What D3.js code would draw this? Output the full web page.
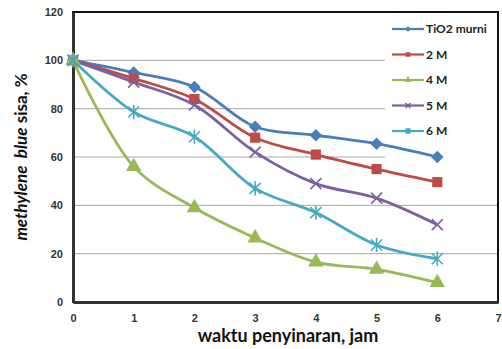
<!DOCTYPE html>
<html>
<head>
<meta charset="utf-8">
<script src="https://cdn.jsdelivr.net/npm/d3@7"></script>
<style>
  body { margin: 0; background: #fff; }
  svg { font-family: Lato, "Open Sans", sans-serif; }
  .tick text { font-weight: bold; fill: #333; font-size: 11px; }
</style>
</head>
<body>
<div id="chart"></div>
<script>
/* methylene blue degradation chart */

const width = 502,
    height = 349,
    margin = ({ top: 12, right: 4, bottom: 47, left: 73 });

// data
const hours = [0, 1, 2, 3, 4, 5, 6];
const seriesNames = ["TiO2 murni", "2 M", "4 M", "5 M", "6 M"];
const tio2 = [100, 95, 89, 72.5, 69, 65.5, 60];
const m2 = [100, 92.5, 84, 68, 61, 55, 49.6];
const m4 = [100, 56, 39, 26.5, 16.5, 13.5, 8];
const m5 = [100, 91, 81.5, 62, 49, 43, 32];
const m6 = [100, 78.6, 68.4, 47, 37, 23.6, 17.9];
const xTicks = [0, 1, 2, 3, 4, 5, 6, 7];
const yTicks = [0, 20, 40, 60, 80, 100, 120];

const colors = ["#4a7ebb", "#be4b48", "#98b954", "#7d60a0", "#46aac5"];
const symbols = ["diamond", "square", "triangle", "cross", "star"];
const values = [tio2, m2, m4, m5, m6];

const svg = d3.select("#chart")
    .append("svg")
    .attr("width", width)
    .attr("height", height);

let x = d3.scaleLinear()
    .domain([0, 7])
    .range([margin.left, 498]);

let y = d3.scaleLinear()
    .domain([0, 120])
    .range([height - margin.bottom, margin.top]);

// gridlines (stop at the legend)
svg.append("g")
    .selectAll("line")
    .data(yTicks.filter(d => d > 0 && d < 120))
    .join("line")
    .attr("x1", x(0))
    .attr("x2", d => d >= 60 ? 385 : x(7))
    .attr("y1", d => y(d))
    .attr("y2", d => y(d))
    .attr("stroke", "#a6a6a6")
    .attr("stroke-width", 1);

// outer frame
svg.append("rect")
    .attr("x", x(0))
    .attr("y", y(120))
    .attr("width", x(7) - x(0))
    .attr("height", y(0) - y(120))
    .attr("fill", "none")
    .attr("stroke", "#111")
    .attr("stroke-width", 2);

svg.append("g")             // y axis
    .attr("transform", `translate(${x(0)},0)`)
    .call(d3.axisLeft(y).tickValues(yTicks).tickFormat(d3.format("d")).tickSize(0).tickPadding(10))
    .call(g => g.select(".domain").attr("stroke", "#333").attr("stroke-width", 3));

svg.append("g")             // x axis
    .attr("transform", `translate(0,${y(0)})`)
    .call(d3.axisBottom(x).tickValues(xTicks).tickFormat(d3.format("d")).tickSize(0).tickPadding(12))
    .call(g => g.select(".domain").attr("stroke", "#333").attr("stroke-width", 3));

// lines
let line = d3.line()
    .x((d, i) => x(hours[i]))
    .y(d => y(d))
    .curve(d3.curveCatmullRom.alpha(0.5));

const plot = svg.append("g");

values.forEach((vals, k) => {
    plot.append("path")
        .datum(vals)
        .attr("d", line)
        .attr("fill", "none")
        .attr("stroke", colors[k])
        .attr("stroke-width", 2.8);
});

function marker(g, kind, color, s) {
    if (kind === "diamond") {
        g.append("path").attr("d", d3.symbol(d3.symbolSquare, s * s * 2.6)())
            .attr("transform", "rotate(45)").attr("fill", color);
    } else if (kind === "square") {
        g.append("path").attr("d", d3.symbol(d3.symbolSquare, s * s * 3.4)()).attr("fill", color);
    } else if (kind === "triangle") {
        g.append("path").attr("d", d3.symbol(d3.symbolTriangle, s * s * 3.4)()).attr("fill", color);
    } else if (kind === "cross") {
        g.append("path").attr("d", `M${-s},${-s}L${s},${s}M${-s},${s}L${s},${-s}`)
            .attr("stroke", color).attr("stroke-width", 1.6);
    } else {
        g.append("path").attr("d", `M${-s},${-s}L${s},${s}M${-s},${s}L${s},${-s}M0,${-s * 1.3}L0,${s * 1.3}`)
            .attr("stroke", color).attr("stroke-width", 1.6);
    }
}

values.forEach((vals, k) => {
    vals.forEach((v, i) => {
        const g = plot.append("g").attr("transform", `translate(${x(hours[i])},${y(v)})`);
        marker(g, symbols[k], colors[k], 5.5);
    });
});

// legend
const legend = svg.append("g");
seriesNames.forEach((name, k) => {
    const ly = 29 + k * 25.5;
    legend.append("line")
        .attr("x1", 392).attr("x2", 424)
        .attr("y1", ly).attr("y2", ly)
        .attr("stroke", colors[k])
        .attr("stroke-width", 2.2);
    const g = legend.append("g").attr("transform", `translate(408,${ly})`);
    marker(g, symbols[k], colors[k], 2.5);
    legend.append("text")
        .attr("x", 426)
        .attr("y", ly)
        .attr("dy", "0.35em")
        .attr("font-size", 12)
        .attr("font-weight", "bold")
        .attr("fill", "#222")
        .text(name);
});

// axis labels
svg.append("text")
    .attr("x", 288)
    .attr("y", 342)
    .attr("text-anchor", "middle")
    .attr("font-size", 18)
    .attr("font-weight", "bold")
    .attr("fill", "#111")
    .text("waktu penyinaran, jam");

const yl = svg.append("text")
    .attr("transform", "translate(27,157) rotate(-90)")
    .attr("text-anchor", "middle")
    .attr("font-size", 17)
    .attr("font-weight", "bold")
    .attr("fill", "#111");
yl.append("tspan").attr("font-style", "italic").text("methylene\u00a0 blue");
yl.append("tspan").text(" sisa, %");
</script>
</body>
</html>
